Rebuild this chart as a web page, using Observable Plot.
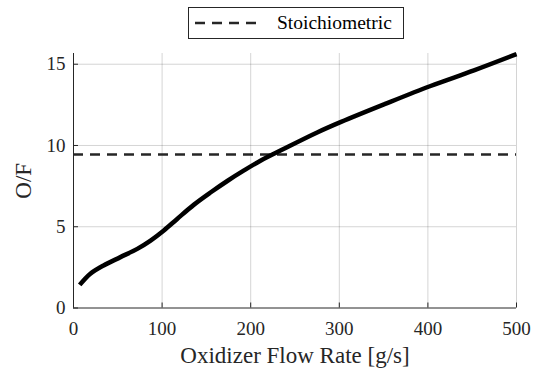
<!DOCTYPE html>
<html>
<head>
<meta charset="utf-8">
<script src="https://cdn.jsdelivr.net/npm/d3@7"></script>
<script src="https://cdn.jsdelivr.net/npm/@observablehq/plot@0.6"></script>
<style>
  html, body { margin: 0; padding: 0; background: #fff; }
  #wrap { position: relative; width: 536px; height: 368px; font-family: "Liberation Serif", "Times New Roman", serif; }
  #legend { position: absolute; left: 188px; top: 7px; width: 214px; height: 30px; border: 1px solid #262626; background: #fff; box-sizing: content-box; display: flex; align-items: center; }
  #legend svg { margin-left: 6px; }
  #legend span { font-size: 19.5px; color: #000; margin-left: 14px; white-space: nowrap; }
</style>
</head>
<body>
<div id="wrap">
  <div id="chart"></div>
  <div id="legend">
    <svg width="68" height="10"><line x1="0" y1="5" x2="68" y2="5" stroke="#262626" stroke-width="2.5" stroke-dasharray="10,7"></line></svg>
    <span>Stoichiometric</span>
  </div>
</div>
<script>
const flowRate = [7, 19, 34, 53, 72, 87, 102, 117, 136, 155, 174, 192, 211, 237, 275, 302, 351, 403, 452, 500];
const ofRatio  = [1.42, 2.11, 2.62, 3.13, 3.64, 4.15, 4.77, 5.48, 6.36, 7.12, 7.83, 8.45, 9.06, 9.78, 10.8, 11.45, 12.54, 13.66, 14.62, 15.62];
const stoichiometric = 9.45;
const xTicks = [0, 100, 200, 300, 400, 500];
const yTicks = [0, 5, 10, 15];
const xLabel = "Oxidizer Flow Rate [g/s]";
const yLabel = "O/F";

const curve = flowRate.map((x, i) => ({x, y: ofRatio[i]}));
const serif = "'Liberation Serif', 'Times New Roman', serif";

const chart = Plot.plot({
  width: 536,
  height: 368,
  marginLeft: 73,
  marginRight: 20,
  marginTop: 53,
  marginBottom: 60.5,
  style: {fontFamily: serif, background: "white", color: "#262626"},
  x: {domain: [0, 500]},
  y: {domain: [0, 15.66]},
  marks: [
    Plot.gridX(xTicks.filter(d => d > 0), {stroke: "#000", strokeOpacity: 0.17, strokeWidth: 1}),
    Plot.gridY(yTicks.filter(d => d > 0), {stroke: "#000", strokeOpacity: 0.17, strokeWidth: 1}),
    Plot.axisX({ticks: xTicks, tickSize: -5, tickPadding: 18, fontSize: 19, fontFamily: serif,
      label: xLabel, labelAnchor: "center", labelArrow: "none", labelOffset: 55}),
    Plot.axisY({ticks: yTicks, tickSize: -5, tickPadding: 13, fontSize: 19, fontFamily: serif,
      label: yLabel, labelAnchor: "center", labelArrow: "none", labelOffset: 59}),
    Plot.ruleX([0], {stroke: "#262626", strokeWidth: 1}),
    Plot.ruleY([0], {stroke: "#262626", strokeWidth: 1}),
    Plot.ruleY([stoichiometric], {stroke: "#262626", strokeWidth: 2.5, strokeDasharray: "10,7"}),
    Plot.line(curve, {x: "x", y: "y", stroke: "#000", strokeWidth: 4.5, curve: "catmull-rom", strokeLinecap: "butt"})
  ]
});
chart.querySelectorAll('g[aria-label$="-axis label"] text, g[aria-label$="-axis label"]').forEach(el => el.setAttribute("font-size", "23"));
document.getElementById("chart").appendChild(chart);
</script>
</body>
</html>
